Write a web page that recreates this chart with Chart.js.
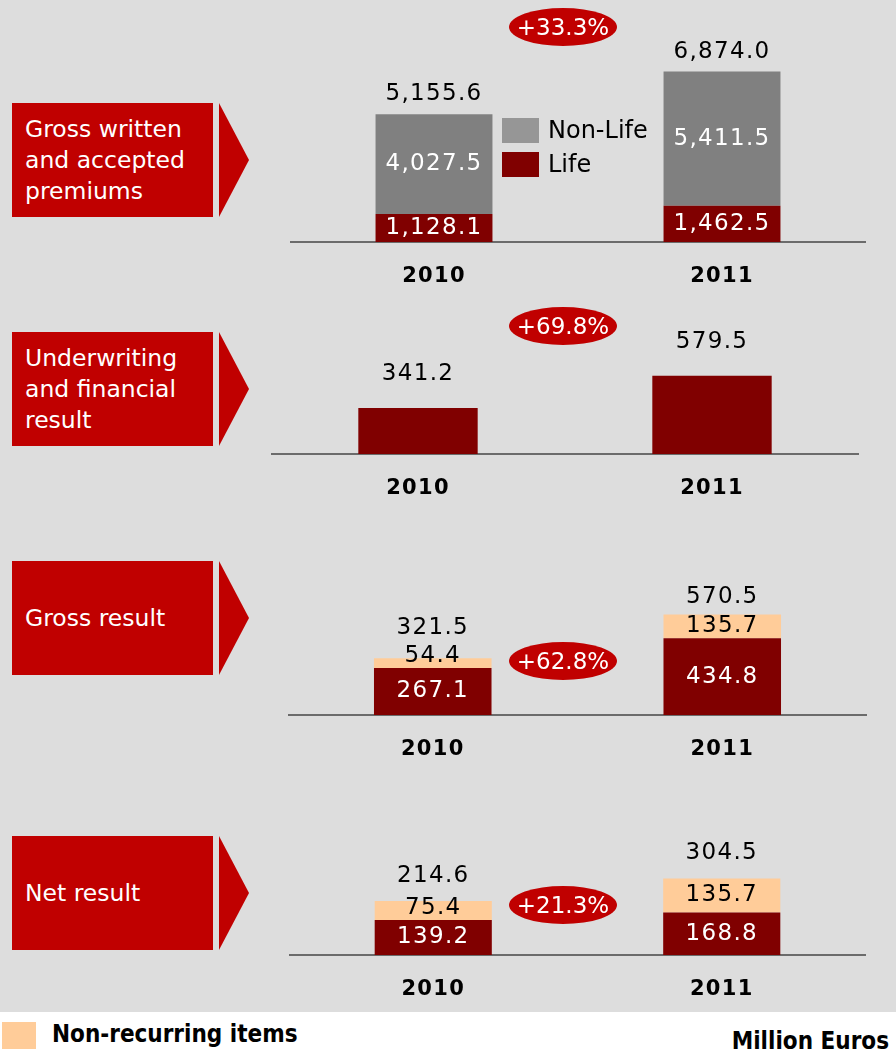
<!DOCTYPE html>
<html>
<head>
<meta charset="utf-8">
<script src="https://cdn.jsdelivr.net/npm/chart.js@4.4.1/dist/chart.umd.min.js"></script>
<style>
  html, body { margin: 0; padding: 0; }
  body { width: 896px; height: 1056px; position: relative; background: #fff; overflow: hidden; font-family: 'DejaVu Sans', sans-serif; }
  #bg { position: absolute; left: 0; top: 0; width: 896px; height: 1012px; background: #dddddd; }
  .panel { position: absolute; left: 0; width: 896px; }
  .box { position: absolute; left: 12px; width: 201px; height: 114px; background: #c00000; color: #fff;
         font-size: 23.5px; line-height: 31px; display: flex; align-items: center; padding-left: 13px; box-sizing: border-box; }
  .arrow { position: absolute; left: 219px; width: 30px; height: 114px; background: #c00000;
           clip-path: polygon(0 0, 100% 50%, 0 100%); }
  .pill { position: absolute; left: 509px; width: 108px; height: 38px; border-radius: 50%; background: #c00000;
          color: #fff; font-size: 23px; line-height: 38px; text-align: center; }
  .lg { position: absolute; font-size: 24px; line-height: 25px; color: #000; }
  .sw { position: absolute; width: 37px; height: 25px; }
  .foot { position: absolute; font-family: 'DejaVu Sans Condensed', 'DejaVu Sans', sans-serif; font-stretch: condensed;
          font-weight: bold; font-size: 24px; color: #000; }
</style>
</head>
<body>
<div id="bg"></div>
<div class="panel" style="top:0px;height:300px"><canvas id="c1"></canvas></div>
<div class="panel" style="top:300px;height:220px"><canvas id="c2"></canvas></div>
<div class="panel" style="top:540px;height:250px"><canvas id="c3"></canvas></div>
<div class="panel" style="top:790px;height:220px"><canvas id="c4"></canvas></div>
<div id="decor"></div>
<script>
// values in million euros
const years = ['2010', '2011'];
const premiumsLife = [1128.1, 1462.5];
const premiumsNonLife = [4027.5, 5411.5];
const premiumsTotal = [5155.6, 6874.0];
const underwritingResult = [341.2, 579.5];
const grossRecurring = [267.1, 434.8];
const grossNonRecurring = [54.4, 135.7];
const grossTotal = [321.5, 570.5];
const netRecurring = [139.2, 168.8];
const netNonRecurring = [75.4, 135.7];
const netTotal = [214.6, 304.5];
const growthLabels = ['+33.3%', '+69.8%', '+62.8%', '+21.3%'];
const panelTitles = ['Gross written<br>and accepted<br>premiums', 'Underwriting<br>and financial<br>result', 'Gross result', 'Net result'];

const RED = '#c00000', DARK = '#800000', GREY = '#808080', PEACH = '#ffcc99';
const NUM_FONT = '23px "DejaVu Sans"';
const fmt = v => v.toLocaleString('en-US', { minimumFractionDigits: 1, maximumFractionDigits: 1 });

// static shapes: label boxes, arrows, growth pills
const boxTops = [103, 332, 561, 836];
const pillCenters = [27, 326, 661, 905];
const decor = document.getElementById('decor');
boxTops.forEach((t, i) => {
  decor.insertAdjacentHTML('beforeend',
    `<div class="box" style="top:${t}px"><div>${panelTitles[i]}</div></div>` +
    `<div class="arrow" style="top:${t}px"></div>` +
    `<div class="pill" style="top:${pillCenters[i] - 19}px">${growthLabels[i]}</div>`);
});
decor.insertAdjacentHTML('beforeend',
  `<div class="sw" style="left:502px;top:118px;background:#969696"></div><div class="lg" style="left:548px;top:118px">Non-Life</div>` +
  `<div class="sw" style="left:502px;top:152px;background:${DARK}"></div><div class="lg" style="left:548px;top:152px">Life</div>` +
  `<div class="sw" style="left:2px;top:1022px;width:34px;height:27px;background:${PEACH}"></div>` +
  `<div class="foot" style="left:52px;top:1020px">Non-recurring items</div>` +
  `<div class="foot" style="right:7px;top:1027px">Million Euros</div>`);

// baseline, year labels, value labels
const barLabels = {
  id: 'barLabels',
  beforeDatasetsDraw(chart) {
    const { ctx, chartArea } = chart;
    const y0 = chart.scales.y.getPixelForValue(0);
    ctx.save();
    ctx.strokeStyle = '#6b6b6b';
    ctx.lineWidth = 2;
    ctx.beginPath();
    ctx.moveTo(chartArea.left, y0);
    ctx.lineTo(chartArea.right, y0);
    ctx.stroke();
    ctx.restore();
  },
  afterDatasetsDraw(chart, args, opts) {
    const { ctx } = chart;
    const y0 = chart.scales.y.getPixelForValue(0);
    ctx.save();
    ctx.textAlign = 'center';
    ctx.textBaseline = 'middle';
    ctx.letterSpacing = '1.3px';
    const segY = [];
    chart.data.datasets.forEach((ds, di) => {
      const meta = chart.getDatasetMeta(di);
      meta.data.forEach((bar, i) => {
        if (!ds.labelColor) return;
        const top = bar.y, base = bar.base;
        let y = (top + base) / 2;
        if (base - top < 26) y = Math.min(y, base - 12);
        segY[i] = y;
        ctx.font = NUM_FONT;
        ctx.fillStyle = ds.labelColor;
        ctx.fillText(fmt(ds.data[i]), bar.x, y);
      });
    });
    const last = chart.getDatasetMeta(chart.data.datasets.length - 1);
    last.data.forEach((bar, i) => {
      let y = bar.y - opts.offset;
      if (segY[i] !== undefined) y = Math.min(y, segY[i] - 28);
      ctx.font = NUM_FONT;
      ctx.fillStyle = '#000';
      ctx.fillText(fmt(opts.totals[i]), bar.x, y);
      ctx.font = 'bold 21px "DejaVu Sans"';
      ctx.fillText(chart.data.labels[i], bar.x, y0 + 35);
    });
    ctx.restore();
  }
};

function makePanel(id, datasets, pad, ymax, totals, offset) {
  new Chart(document.getElementById(id), {
    type: 'bar',
    data: { labels: years, datasets },
    options: {
      responsive: true,
      maintainAspectRatio: false,
      animation: false,
      layout: { padding: pad },
      datasets: { bar: { barPercentage: 0.406, categoryPercentage: 1 } },
      scales: {
        x: { display: false, stacked: true },
        y: { display: false, stacked: true, min: 0, max: ymax }
      },
      plugins: {
        legend: { display: false },
        tooltip: { enabled: false },
        barLabels: { totals, offset }
      }
    },
    plugins: [barLabels]
  });
}

makePanel('c1', [
  { data: premiumsLife, backgroundColor: DARK, labelColor: '#fff' },
  { data: premiumsNonLife, backgroundColor: GREY, labelColor: '#fff' }
], { left: 290, right: 30, top: 0, bottom: 58 }, 9760, premiumsTotal, 20);

makePanel('c2', [
  { data: underwritingResult, backgroundColor: DARK }
], { left: 271, right: 37, top: 0, bottom: 66 }, 1142, underwritingResult, 34);

makePanel('c3', [
  { data: grossRecurring, backgroundColor: DARK, labelColor: '#fff' },
  { data: grossNonRecurring, backgroundColor: PEACH, labelColor: '#000' }
], { left: 288, right: 29, top: 0, bottom: 75 }, 993, grossTotal, 17);

makePanel('c4', [
  { data: netRecurring, backgroundColor: DARK, labelColor: '#fff' },
  { data: netNonRecurring, backgroundColor: PEACH, labelColor: '#000' }
], { left: 289, right: 30, top: 0, bottom: 55 }, 656, netTotal, 25);
</script>
</body>
</html>
